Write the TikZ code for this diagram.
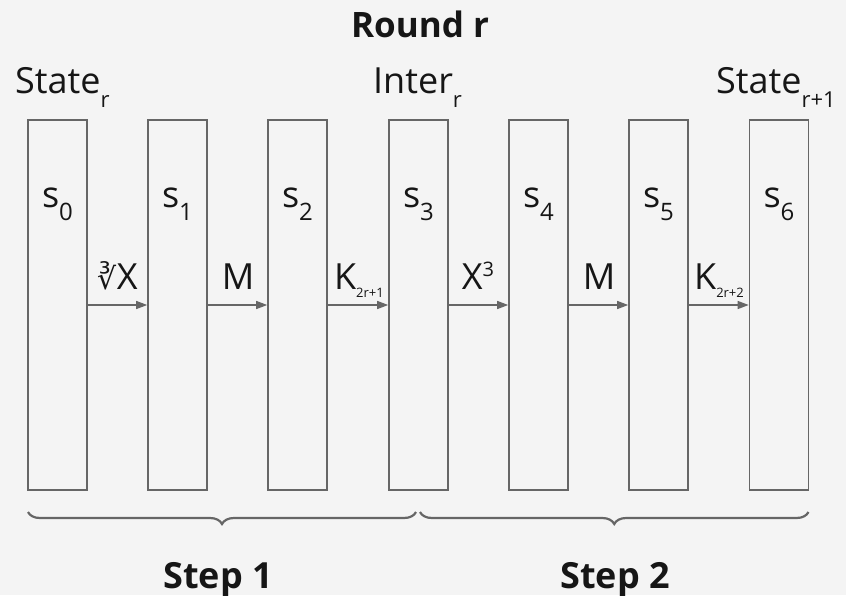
\documentclass[tikz,border=0pt]{standalone}
\usepackage{fontspec}
\setmainfont{Open Sans}
\newfontfamily\symfont{DejaVu Sans}
\usetikzlibrary{arrows.meta,decorations.pathreplacing}
\definecolor{bgcol}{HTML}{F4F4F4}
\definecolor{linecol}{HTML}{666666}
\definecolor{txtcol}{HTML}{161616}
\newcommand{\lsub}[3]{\raisebox{-#2pt}{\fontsize{#1}{#1}\selectfont #3}}
\newcommand{\hsup}[3]{\raisebox{#2pt}{\fontsize{#1}{#1}\selectfont #3}}
\tikzset{
  reg/.style={draw=linecol, line width=1.6pt, minimum width=59pt,
    minimum height=370pt, inner sep=0pt},
  big/.style={text=txtcol, inner sep=0pt, anchor=base,
    font=\fontsize{36}{40}\selectfont},
  head/.style={text=txtcol, inner sep=0pt, anchor=base,
    font=\fontsize{35}{40}\selectfont\bfseries},
  flow/.style={draw=linecol, line width=1.2pt,
    -{Triangle[length=11pt,width=8pt]}},
  brc/.style={draw=linecol, line width=2.2pt,
    decorate, decoration={brace, mirror, amplitude=12pt}}
}
\begin{document}
\begin{tikzpicture}[x=1pt, y=-1pt]
  \fill[bgcol] (0,0) rectangle (846,595);
  \useasboundingbox (0,0) rectangle (846,595);
  % registers
  \draw
    (57.5,305) node[reg] (s0){}
    (177.5,305) node[reg] (s1){}
    (297.5,305) node[reg] (s2){}
    (418.5,305) node[reg] (s3){}
    (538.5,305) node[reg] (s4){}
    (658.5,305) node[reg] (s5){}
    (779,305) node[reg] (s6){};
  % register names
  \node[big] (n0) at (57.5,207) {s\lsub{24}{13}{0}};
  \node[big] (n1) at (177.5,207) {s\lsub{24}{13}{1}};
  \node[big] (n2) at (297.5,207) {s\lsub{24}{13}{2}};
  \node[big] (n3) at (418.5,207) {s\lsub{24}{13}{3}};
  \node[big] (n4) at (538.5,207) {s\lsub{24}{13}{4}};
  \node[big] (n5) at (658.5,207) {s\lsub{24}{13}{5}};
  \node[big] (n6) at (779,207) {s\lsub{24}{13}{6}};
  % states
  \node[big, anchor=base west] (str) at (15,93) {State\lsub{22}{14}{r}};
  \node[big, anchor=base west] (itr) at (373,93) {Inter\lsub{22}{14}{r}};
  \node[big, anchor=base west] (stn) at (716,93) {State\lsub{22}{14}{r+1}};
  \node[head] (round) at (420,37) {Round r};
  % operations
  \node[big] (op1) at (117.5,289) {{\symfont\fontsize{30}{30}\selectfont ∛}\kern0.5pt X};
  \node[big] (op2) at (238,289) {M};
  \node[big] (op3) at (359,289) {K\lsub{13}{8}{2r+1}};
  \node[big] (op4) at (478,289) {X\hsup{20}{13}{3}};
  \node[big] (op5) at (599,289) {M};
  \node[big] (op6) at (719,289) {K\lsub{13}{8}{2r+2}};
  \begin{scope}[flow]
    \draw (s0) -- (s1);
    \draw (s1) -- (s2);
    \draw (s2) -- (s3);
    \draw (s3) -- (s4);
    \draw (s4) -- (s5);
    \draw (s5) -- (s6);
  \end{scope}
  % steps
  \coordinate (b0) at (28,512);
  \coordinate (b1) at (416,512);
  \coordinate (b2) at (420,512);
  \coordinate (b3) at (808.5,512);
  \draw[brc] (b0) -- (b1);
  \draw[brc] (b2) -- (b3);
  \node[head, font=\fontsize{36}{40}\selectfont\bfseries] (step1) at (218,588) {Step 1};
  \node[head, font=\fontsize{36}{40}\selectfont\bfseries] (step2) at (615,588) {Step 2};
\end{tikzpicture}
\end{document}
